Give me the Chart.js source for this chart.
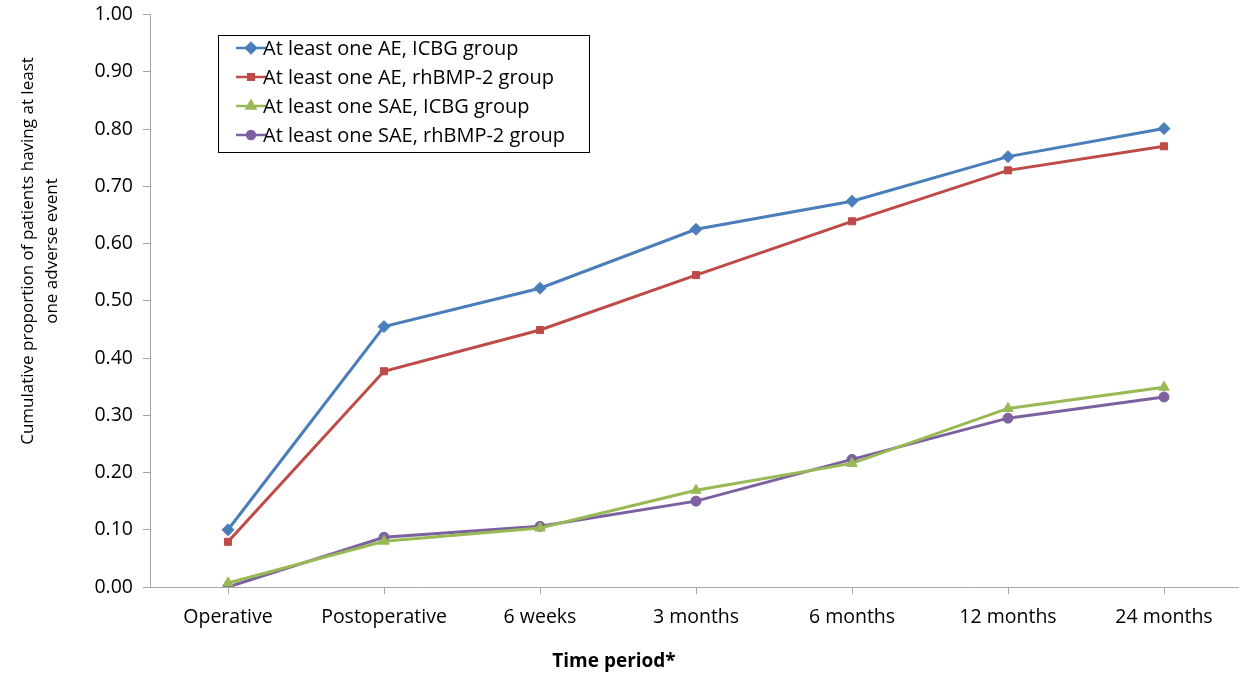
<!DOCTYPE html>
<html>
<head>
<meta charset="utf-8">
<script src="https://cdn.jsdelivr.net/npm/chart.js@4"></script>
<style>
  html, body { margin: 0; padding: 0; background: #fff; overflow: hidden; }
  #wrap { width: 1239px; height: 679px; overflow: hidden; position: relative; }
  #aeChart { position: absolute; left: 0; top: -7px; }
</style>
</head>
<body>
<div id="wrap"><canvas id="aeChart" width="1249" height="686"></canvas></div>
<script>
const periods = ['Operative', 'Postoperative', '6 weeks', '3 months', '6 months', '12 months', '24 months'];
const aeIcbg = [0.10, 0.455, 0.522, 0.625, 0.674, 0.752, 0.801];
const aeBmp = [0.079, 0.377, 0.449, 0.545, 0.639, 0.728, 0.770];
const saeIcbg = [0.007, 0.080, 0.103, 0.169, 0.216, 0.312, 0.349];
const saeBmp = [0.0, 0.087, 0.106, 0.150, 0.223, 0.295, 0.332];
const yTicks = [0, 0.1, 0.2, 0.3, 0.4, 0.5, 0.6, 0.7, 0.8, 0.9, 1.0];

const font = "'Open Sans', Lato, sans-serif";
const yTitle = ['Cumulative proportion of patients having at least', 'one adverse event'];

// legend box inside the plot and the axis titles, placed like the original
// (canvas is shifted up 7px, so page y = canvas y - 7)
const boxLegend = {
  id: 'boxLegend',
  afterDraw(chart) {
    const ctx = chart.ctx;
    const dy = 7;
    const x0 = 218, y0 = 35 + dy, w = 371, h = 117;
    ctx.save();
    ctx.fillStyle = '#fff';
    ctx.fillRect(x0, y0, w, h);
    ctx.strokeStyle = '#000';
    ctx.lineWidth = 1;
    ctx.strokeRect(x0 + 0.5, y0 + 0.5, w, h);
    ctx.font = "20px " + font;
    ctx.textBaseline = 'middle';
    chart.data.datasets.forEach((ds, i) => {
      const y = y0 + 13 + i * 29;
      ctx.strokeStyle = ds.borderColor;
      ctx.lineWidth = 2.5;
      ctx.beginPath();
      ctx.moveTo(x0 + 18, y);
      ctx.lineTo(x0 + 48, y);
      ctx.stroke();
      ctx.fillStyle = ds.borderColor;
      Chart.helpers.drawPoint(ctx, {
        pointStyle: ds.pointStyle,
        radius: ds.pointRadius - 1,
        borderWidth: 1
      }, x0 + 33, y);
      ctx.fillStyle = '#000';
      ctx.fillText(ds.label, x0 + 45, y + 1);
    });
    ctx.textAlign = 'center';
    ctx.font = "bold 19px " + font;
    ctx.fillText('Time period*', 614, 662 + dy);
    ctx.font = "17px " + font;
    ctx.translate(0, 251 + dy);
    ctx.rotate(-Math.PI / 2);
    ctx.fillText(yTitle[0], 0, 28);
    ctx.fillText(yTitle[1], 0, 52);
    ctx.restore();
  }
};

function series(label, data, color, style, r) {
  return {
    label: label,
    data: data,
    borderColor: color,
    backgroundColor: color,
    pointBackgroundColor: color,
    pointBorderColor: color,
    borderWidth: 3,
    pointStyle: style,
    pointRadius: r,
    pointBorderWidth: 1,
    tension: 0
  };
}

new Chart(document.getElementById('aeChart').getContext('2d'), {
  type: 'line',
  data: {
    labels: periods,
    datasets: [
      series('At least one AE, ICBG group', aeIcbg, '#4a7ebb', 'rectRot', 6),
      series('At least one AE, rhBMP-2 group', aeBmp, '#be4b48', 'rect', 5),
      series('At least one SAE, ICBG group', saeIcbg, '#98b954', 'triangle', 6),
      series('At least one SAE, rhBMP-2 group', saeBmp, '#7d60a0', 'circle', 5)
    ]
  },
  options: {
    responsive: false,
    animation: false,
    layout: { padding: { top: 8, right: 0, left: 0, bottom: 0 } },
    plugins: {
      legend: { display: false },
      tooltip: { enabled: false }
    },
    scales: {
      x: {
        offset: true,
        grid: { offset: false, drawOnChartArea: false, drawTicks: true, tickLength: 7, color: '#a6a6a6' },
        border: { color: '#a6a6a6', width: 1 },
        ticks: { color: '#000', font: { family: font, size: 19.5 }, padding: 12, maxRotation: 0 },
        afterFit(scale) { scale.height = 92; }
      },
      y: {
        min: 0,
        max: 1,
        afterBuildTicks(scale) { scale.ticks = yTicks.map(v => ({ value: v })); },
        grid: { drawOnChartArea: false, drawTicks: true, tickLength: 7, color: '#a6a6a6' },
        border: { color: '#a6a6a6', width: 1 },
        ticks: {
          color: '#000',
          font: { family: font, size: 19.5 },
          padding: 10,
          callback: v => v.toFixed(2)
        },
        afterFit(scale) { scale.width = 150; }
      }
    }
  },
  plugins: [boxLegend]
});
</script>
</body>
</html>
